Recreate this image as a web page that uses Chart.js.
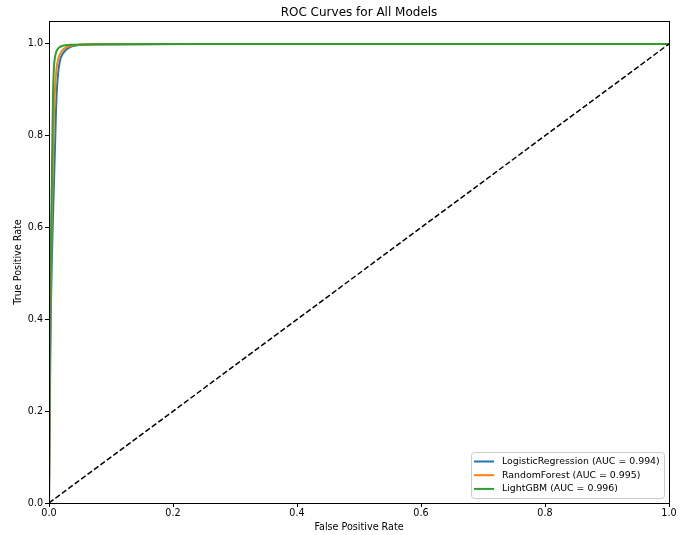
<!DOCTYPE html>
<html>
<head>
<meta charset="utf-8">
<script src="https://cdn.jsdelivr.net/npm/chart.js@4.4.1/dist/chart.umd.min.js"></script>
<style>
  html, body { margin: 0; padding: 0; background: #fff; }
  #wrap { width: 692px; height: 535px; }
</style>
</head>
<body>
<div id="wrap"><canvas id="roc-chart" width="692" height="535"></canvas></div>
<script>
// ROC points
const lrFpr = [0, 0.001, 0.002, 0.003, 0.005, 0.007, 0.0085, 0.01, 0.0112, 0.0127, 0.015, 0.018, 0.022, 0.028, 0.035, 0.045, 0.07, 0.15, 0.3, 1];
const lrTpr = [0, 0.15, 0.3, 0.42, 0.55, 0.65, 0.72, 0.79, 0.85, 0.9, 0.94, 0.965, 0.978, 0.988, 0.994, 0.997, 0.999, 0.9995, 1, 1];

const rfFpr = [0, 0.001, 0.002, 0.004, 0.006, 0.008, 0.01, 0.012, 0.015, 0.02, 0.026, 0.035, 0.05, 0.1, 0.25, 1];
const rfTpr = [0, 0.2, 0.38, 0.58, 0.72, 0.84, 0.91, 0.945, 0.968, 0.983, 0.991, 0.996, 0.998, 0.9995, 1, 1];

const gbmFpr = [0, 0.001, 0.002, 0.003, 0.0045, 0.0055, 0.0065, 0.0078, 0.0095, 0.012, 0.016, 0.022, 0.035, 0.08, 0.2, 1];
const gbmTpr = [0, 0.22, 0.42, 0.55, 0.7, 0.8, 0.89, 0.945, 0.97, 0.984, 0.992, 0.996, 0.998, 0.9995, 1, 1];

const modelLabels = [
  "LogisticRegression (AUC = 0.994)",
  "RandomForest (AUC = 0.995)",
  "LightGBM (AUC = 0.996)",
];
const modelColors = ["#1f77b4", "#ff7f0e", "#2ca02c"];
const chanceLine = [0, 1];
const tickValues = [0, 0.2, 0.4, 0.6, 0.8, 1.0];
const chartTitle = "ROC Curves for All Models";

const FONT = "'DejaVu Sans', sans-serif";

function toPoints(xs, ys) {
  return xs.map((x, i) => ({ x: x, y: ys[i] }));
}

function lineSet(label, xs, ys, color, order) {
  return {
    label: label,
    data: toPoints(xs, ys),
    borderColor: color,
    backgroundColor: color,
    borderWidth: 2,
    pointRadius: 0,
    fill: false,
    cubicInterpolationMode: "monotone",
    order: order,
  };
}

const rocData = {
  datasets: [
    lineSet(modelLabels[0], lrFpr, lrTpr, modelColors[0], 3),
    lineSet(modelLabels[1], rfFpr, rfTpr, modelColors[1], 2),
    lineSet(modelLabels[2], gbmFpr, gbmTpr, modelColors[2], 1),
    {
      label: "chance",
      data: toPoints(chanceLine, chanceLine),
      borderColor: "#000",
      borderWidth: 1.5,
      borderDash: [5.5, 2.5],
      pointRadius: 0,
      fill: false,
      order: 0,
    },
  ],
};

// title over the plot, top/right frame and legend box inside the plot
const framePlugin = {
  id: "frame",
  afterDatasetsDraw(chart) {
    const { ctx, chartArea: a } = chart;
    ctx.save();
    ctx.strokeStyle = "#000";
    ctx.lineWidth = 1;
    ctx.strokeRect(Math.round(a.left) + 0.5, Math.round(a.top) + 0.5,
      Math.round(a.right - a.left), Math.round(a.bottom - a.top));

    ctx.fillStyle = "#000";
    ctx.font = "12px " + FONT;
    ctx.textAlign = "center";
    ctx.textBaseline = "alphabetic";
    ctx.fillText(chartTitle, (a.left + a.right) / 2, a.top - 5);

    // legend
    const boxW = 193, boxH = 46;
    const bx = a.right - 5 - boxW, by = a.bottom - 5 - boxH;
    ctx.fillStyle = "rgba(255,255,255,0.8)";
    ctx.strokeStyle = "#cccccc";
    ctx.beginPath();
    ctx.roundRect(bx + 0.5, by + 0.5, boxW, boxH, 3);
    ctx.fill();
    ctx.stroke();
    ctx.font = "9.4px " + FONT;
    ctx.textBaseline = "middle";
    ctx.textAlign = "left";
    for (let i = 0; i < 3; i++) {
      const ds = chart.data.datasets[i];
      const y = by + 9.5 + i * 13.7;
      ctx.strokeStyle = ds.borderColor;
      ctx.lineWidth = 2;
      ctx.beginPath();
      ctx.moveTo(bx + 3, y);
      ctx.lineTo(bx + 23, y);
      ctx.stroke();
      ctx.fillStyle = "#000";
      ctx.fillText(ds.label, bx + 31, y);
    }
    ctx.restore();
  },
};

new Chart(document.getElementById("roc-chart").getContext("2d"), {
  type: "line",
  data: rocData,
  plugins: [framePlugin],
  options: {
    responsive: false,
    animation: false,
    layout: { padding: { top: 21, right: 23, bottom: 0, left: 0 } },
    plugins: {
      legend: { display: false },
      tooltip: { enabled: false },
      title: { display: false },
    },
    scales: {
      x: {
        type: "linear",
        min: 0,
        max: 1,
        afterFit(scale) { scale.height = 32; },
        afterBuildTicks(scale) { scale.ticks = tickValues.map(v => ({ value: v })); },
        grid: { drawOnChartArea: false, drawTicks: true, tickLength: 4, color: "#000" },
        border: { display: true, color: "#000" },
        ticks: {
          color: "#000",
          padding: 1,
          maxRotation: 0,
          font: { family: FONT, size: 9.6 },
          callback: v => v.toFixed(1),
        },
        title: {
          display: true,
          text: "False Positive Rate",
          color: "#000",
          font: { family: FONT, size: 9.6 },
          padding: { top: 0, bottom: 2 },
        },
      },
      y: {
        type: "linear",
        min: 0,
        max: 1.05,
        afterFit(scale) { scale.width = 49; },
        afterBuildTicks(scale) { scale.ticks = tickValues.map(v => ({ value: v })); },
        grid: { drawOnChartArea: false, drawTicks: true, tickLength: 4, color: "#000" },
        border: { display: true, color: "#000" },
        ticks: {
          color: "#000",
          padding: 2,
          font: { family: FONT, size: 9.6 },
          callback: v => v.toFixed(1),
        },
        title: {
          display: true,
          text: "True Positive Rate",
          color: "#000",
          font: { family: FONT, size: 9.6 },
          padding: { top: 13, bottom: 0 },
        },
      },
    },
  },
});
</script>
</body>
</html>
